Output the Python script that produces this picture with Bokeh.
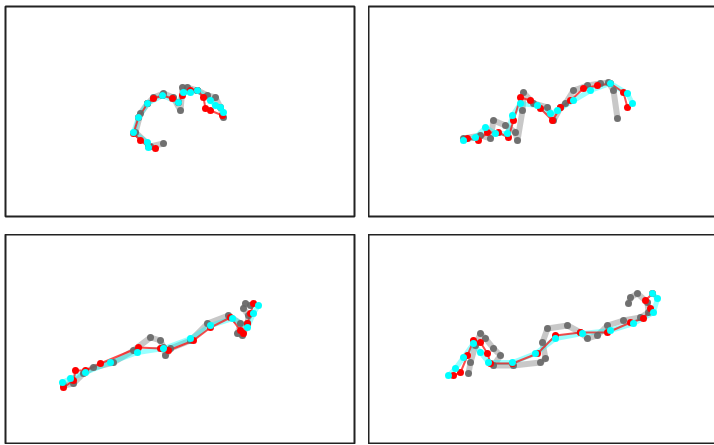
from bokeh.plotting import figure
from bokeh.layouts import column, row
from bokeh.models import Range1d
from bokeh.embed import file_html
from bokeh.resources import INLINE

# ---- trajectories (image pixel coordinates) ----
# Panel 1 (top-left)
p1_gray_x = [163, 150, 135, 140, 147, 153, 163, 173, 180, 182, 187, 197, 207, 215, 220, 223]
p1_gray_y = [143, 146, 132, 113, 103, 97, 93, 97, 110, 87, 87, 90, 95, 97, 107, 117]
p1_red_x = [155, 148, 140, 133, 138, 147, 153, 162, 172, 178, 182, 190, 197, 203, 205, 210, 222]
p1_red_y = [148, 146, 140, 133, 117, 103, 98, 95, 98, 102, 95, 90, 90, 97, 108, 110, 115]
p1_cyan_x = [148, 147, 133, 138, 147, 162, 178, 183, 190, 197, 210, 215, 220, 223]
p1_cyan_y = [147, 142, 132, 117, 103, 95, 102, 92, 92, 90, 100, 105, 107, 112]

# Panel 2 (top-right)
p2_gray_x = [463, 480, 490, 493, 505, 515, 517, 522, 523, 533, 547, 553, 560, 565, 573, 587, 600, 608, 613, 617]
p2_gray_y = [138, 135, 138, 120, 125, 132, 140, 110, 92, 103, 107, 120, 107, 103, 90, 85, 83, 82, 90, 118]
p2_red_x = [467, 478, 487, 498, 508, 513, 520, 530, 540, 552, 560, 570, 583, 597, 610, 623, 627]
p2_red_y = [138, 140, 132, 132, 137, 120, 97, 100, 108, 120, 107, 100, 88, 85, 83, 92, 107]
p2_cyan_x = [463, 475, 485, 495, 507, 512, 520, 537, 550, 557, 573, 590, 610, 627, 632]
p2_cyan_y = [140, 137, 127, 133, 133, 115, 103, 105, 113, 110, 100, 90, 83, 93, 103]

# Panel 3 (bottom-left)
p3_gray_x = [63, 73, 83, 93, 113, 133, 150, 160, 163, 165, 170, 190, 207, 228, 240, 237, 242, 247, 248, 243, 245, 250]
p3_gray_y = [385, 383, 373, 367, 362, 350, 337, 340, 347, 355, 348, 340, 323, 315, 323, 333, 335, 323, 315, 308, 303, 305]
p3_red_x = [63, 73, 75, 85, 100, 138, 160, 168, 193, 210, 230, 240, 243, 247, 250, 253]
p3_red_y = [387, 380, 370, 370, 363, 347, 348, 350, 340, 327, 317, 330, 333, 323, 313, 303]
p3_cyan_x = [62, 70, 85, 110, 137, 163, 190, 210, 232, 247, 253, 258]
p3_cyan_y = [382, 378, 372, 362, 352, 348, 338, 325, 318, 327, 313, 305]

# Panel 4 (bottom-right)
p4_gray_x = [468, 470, 475, 480, 485, 493, 500, 493, 513, 540, 545, 542, 547, 567, 580, 587, 597, 607, 623, 640, 648, 647, 637, 630, 628]
p4_gray_y = [373, 362, 345, 333, 338, 348, 355, 365, 365, 362, 358, 342, 328, 325, 332, 338, 335, 325, 320, 317, 312, 302, 293, 297, 303]
p4_red_x = [453, 460, 467, 473, 480, 487, 490, 512, 537, 555, 580, 607, 630, 643, 650, 645, 652]
p4_red_y = [375, 372, 355, 340, 342, 353, 363, 363, 353, 335, 332, 332, 322, 318, 308, 300, 293]
p4_cyan_x = [448, 455, 463, 473, 480, 488, 512, 535, 555, 582, 610, 633, 653, 657, 652]
p4_cyan_y = [375, 368, 357, 343, 352, 362, 362, 353, 338, 333, 330, 323, 312, 298, 293]

panels = [
    ((p1_gray_x, p1_gray_y), (p1_red_x, p1_red_y), (p1_cyan_x, p1_cyan_y), (5, 354), (216, 6)),
    ((p2_gray_x, p2_gray_y), (p2_red_x, p2_red_y), (p2_cyan_x, p2_cyan_y), (368, 717), (216, 6)),
    ((p3_gray_x, p3_gray_y), (p3_red_x, p3_red_y), (p3_cyan_x, p3_cyan_y), (5, 354), (444, 234)),
    ((p4_gray_x, p4_gray_y), (p4_red_x, p4_red_y), (p4_cyan_x, p4_cyan_y), (368, 717), (444, 234)),
]

figs = []
for i, (g, r, c, xr, yr) in enumerate(panels):
    f = figure(frame_width=349, frame_height=210, output_backend="svg",
               toolbar_location=None, x_range=Range1d(*xr), y_range=Range1d(*yr),
               min_border=0)
    if i % 2 == 0:
        f.min_border_left = 5
        f.min_border_right = 14
    if i < 2:
        f.min_border_top = 6
        f.min_border_bottom = 18
    f.axis.visible = False
    f.grid.visible = False
    f.outline_line_color = "#222222"
    f.outline_line_width = 2
    f.background_fill_color = "white"
    f.border_fill_color = "white"
    f.line(g[0], g[1], line_color="#9a9a9a", line_width=6, line_alpha=0.55,
           line_join="round", line_cap="round")
    f.line(c[0], c[1], line_color="#00ffff", line_width=5, line_alpha=0.4,
           line_join="round", line_cap="round")
    f.line(r[0], r[1], line_color="#ff0000", line_width=2, line_alpha=0.7,
           line_join="round")
    f.scatter(g[0], g[1], size=7, fill_color="#666666", line_color=None, fill_alpha=0.9)
    f.scatter(r[0], r[1], size=7, fill_color="#ff0000", line_color=None)
    f.scatter(c[0], c[1], size=7, fill_color="#00ffff", line_color=None)
    figs.append(f)

p = column(row(figs[0], figs[1], spacing=0), row(figs[2], figs[3], spacing=0), spacing=0)

open("out.html", "w").write(file_html(p, INLINE))
